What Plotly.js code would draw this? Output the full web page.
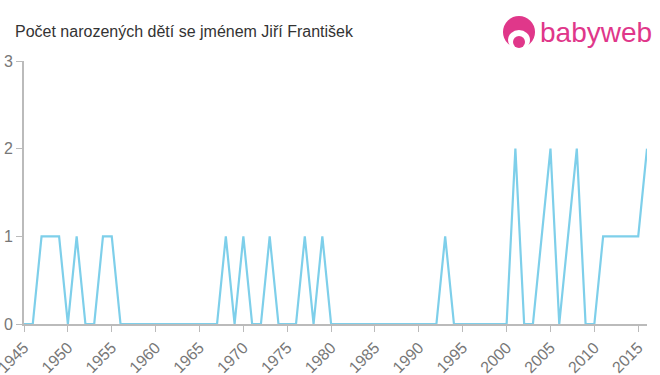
<!DOCTYPE html>
<html>
<head>
<meta charset="utf-8">
<script src="https://cdn.plot.ly/plotly-3.0.1.min.js"></script>
<style>html,body{margin:0;padding:0;background:#fff;}#chart{width:660px;height:375px;}</style>
</head>
<body>
<div id="chart"></div>
<script>
const years = [1945,1946,1947,1948,1949,1950,1951,1952,1953,1954,1955,1956,1957,1958,1959,1960,1961,1962,1963,1964,1965,1966,1967,1968,1969,1970,1971,1972,1973,1974,1975,1976,1977,1978,1979,1980,1981,1982,1983,1984,1985,1986,1987,1988,1989,1990,1991,1992,1993,1994,1995,1996,1997,1998,1999,2000,2001,2002,2003,2004,2005,2006,2007,2008,2009,2010,2011,2012,2013,2014,2015,2016];
const counts = [0,0,1,1,1,0,1,0,0,1,1,0,0,0,0,0,0,0,0,0,0,0,0,1,0,1,0,0,1,0,0,0,1,0,1,0,0,0,0,0,0,0,0,0,0,0,0,0,1,0,0,0,0,0,0,0,2,0,0,1,2,0,1,2,0,0,1,1,1,1,1,2];
const xTicks = [1945,1950,1955,1960,1965,1970,1975,1980,1985,1990,1995,2000,2005,2010,2015];
const yTicks = [0,1,2,3];
const titleText = "Počet narozených dětí se jménem Jiří František";
const logoText = "babyweb";

const L=24, T=61, W=623, H=263;
const px = x => (x-L)/W, py = y => (T+H-y)/H;
const pink = '#e0378a';

const layout = {
  width:660, height:375,
  margin:{l:L, r:660-L-W, t:T, b:375-T-H},
  paper_bgcolor:'#fff', plot_bgcolor:'#fff',
  showlegend:false,
  title:{text:titleText, x:15/660, xanchor:'left', y:1-31/375, yanchor:'middle', font:{family:'Liberation Sans, Arial, sans-serif', size:16, color:'#333'}},
  xaxis:{range:[1945,2016], tickvals:xTicks, ticktext:xTicks.map(String), tickangle:-45, showgrid:false, zeroline:false,
    showline:true, linecolor:'#bbb', linewidth:2, ticks:'outside', ticklen:6, tickcolor:'#bbb', tickwidth:1,
    ticklabeloverflow:'allow',
    tickfont:{family:'Liberation Sans, Arial, sans-serif', size:16, color:'#777'}, fixedrange:true},
  yaxis:{range:[0,3], tickvals:yTicks, showgrid:false, zeroline:false, showline:true, linecolor:'#bbb', linewidth:2,
    ticks:'outside', ticklen:6, tickcolor:'#bbb', tickwidth:1,
    tickfont:{family:'Liberation Sans, Arial, sans-serif', size:16, color:'#777'}, fixedrange:true},
  shapes:[
    {type:'circle', xref:'paper', yref:'paper', x0:px(503), x1:px(535), y0:py(16), y1:py(48), fillcolor:pink, line:{width:0}},
    {type:'circle', xref:'paper', yref:'paper', x0:px(508), x1:px(530), y0:py(30), y1:py(50), fillcolor:'#fff', line:{width:0}},
    {type:'circle', xref:'paper', yref:'paper', x0:px(513), x1:px(525), y0:py(36), y1:py(48), fillcolor:pink, line:{width:0}}
  ],
  annotations:[
    {text:logoText, xref:'paper', yref:'paper', x:px(538), y:py(33), xanchor:'left', yanchor:'middle', showarrow:false,
     font:{family:'Liberation Sans, Arial, sans-serif', size:28, color:pink}}
  ]
};

Plotly.newPlot('chart', [{
  x: years, y: counts, type:'scatter', mode:'lines',
  line:{color:'#7ecfea', width:2.2}, hoverinfo:'x+y', cliponaxis:false
}], layout, {displayModeBar:false, staticPlot:true});
</script>
</body>
</html>
